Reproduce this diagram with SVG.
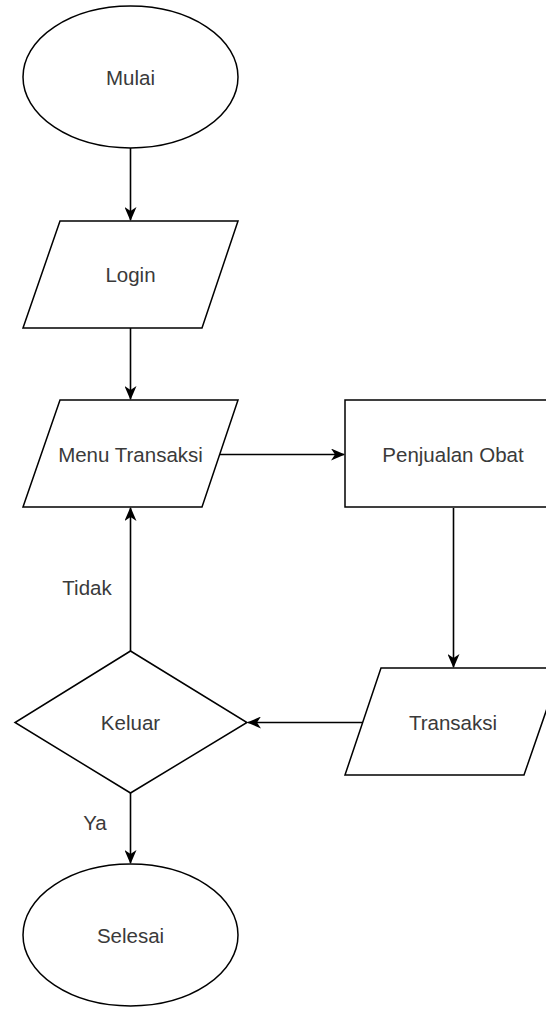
<svg xmlns="http://www.w3.org/2000/svg" width="546" height="1009" viewBox="0 0 546 1009">
<style>
.s{fill:#fff;stroke:#000;stroke-width:1.5}
.t{font-family:"Liberation Sans",Arial,sans-serif;font-size:20.5px;fill:#3a3a3a;text-anchor:middle;dominant-baseline:central}
.e{fill:none;stroke:#000;stroke-width:1.6}
</style>
<defs>
<marker id="a" viewBox="0 0 14 12" refX="13" refY="6" markerWidth="14" markerHeight="12" markerUnits="userSpaceOnUse" orient="auto">
<path d="M0,0 L14,6 L0,12 L4,6 Z" fill="#000"/>
</marker>
</defs>
<rect width="546" height="1009" fill="#fff"/>
<g id="connectors">
<line class="e" x1="130.5" y1="148" x2="130.5" y2="220" marker-end="url(#a)"/>
<line class="e" x1="130.5" y1="328" x2="130.5" y2="399" marker-end="url(#a)"/>
<line class="e" x1="220" y1="454.5" x2="344" y2="454.5" marker-end="url(#a)"/>
<line class="e" x1="453.5" y1="508" x2="453.5" y2="667" marker-end="url(#a)"/>
<line class="e" x1="363" y1="722.5" x2="248" y2="722.5" marker-end="url(#a)"/>
<line class="e" x1="130.5" y1="651" x2="130.5" y2="508" marker-end="url(#a)"/>
<line class="e" x1="130.5" y1="793" x2="130.5" y2="863" marker-end="url(#a)"/>
<text class="t" x="87" y="587">Tidak</text>
<text class="t" x="95" y="822">Ya</text>
</g>
<g id="mulai">
<ellipse class="s" cx="130.5" cy="77" rx="107.5" ry="71"/>
<text class="t" x="130.5" y="77">Mulai</text>
</g>
<g id="login">
<polygon class="s" points="60,221 238,221 202,328 23,328"/>
<text class="t" x="130.5" y="274">Login</text>
</g>
<g id="menu">
<polygon class="s" points="60,400 238,400 202,507 23,507"/>
<text class="t" x="130.5" y="454">Menu Transaksi</text>
</g>
<g id="penjualan">
<rect class="s" x="345" y="400" width="215" height="107"/>
<text class="t" x="453" y="454">Penjualan Obat</text>
</g>
<g id="transaksi">
<polygon class="s" points="381,668 561,668 524,775 345,775"/>
<text class="t" x="453" y="722">Transaksi</text>
</g>
<g id="keluar">
<polygon class="s" points="130.5,651 247,722.5 130.5,793 15,722.5"/>
<text class="t" x="130.5" y="722">Keluar</text>
</g>
<g id="selesai">
<ellipse class="s" cx="130.5" cy="935" rx="107.5" ry="71"/>
<text class="t" x="130.5" y="935">Selesai</text>
</g>
</svg>
